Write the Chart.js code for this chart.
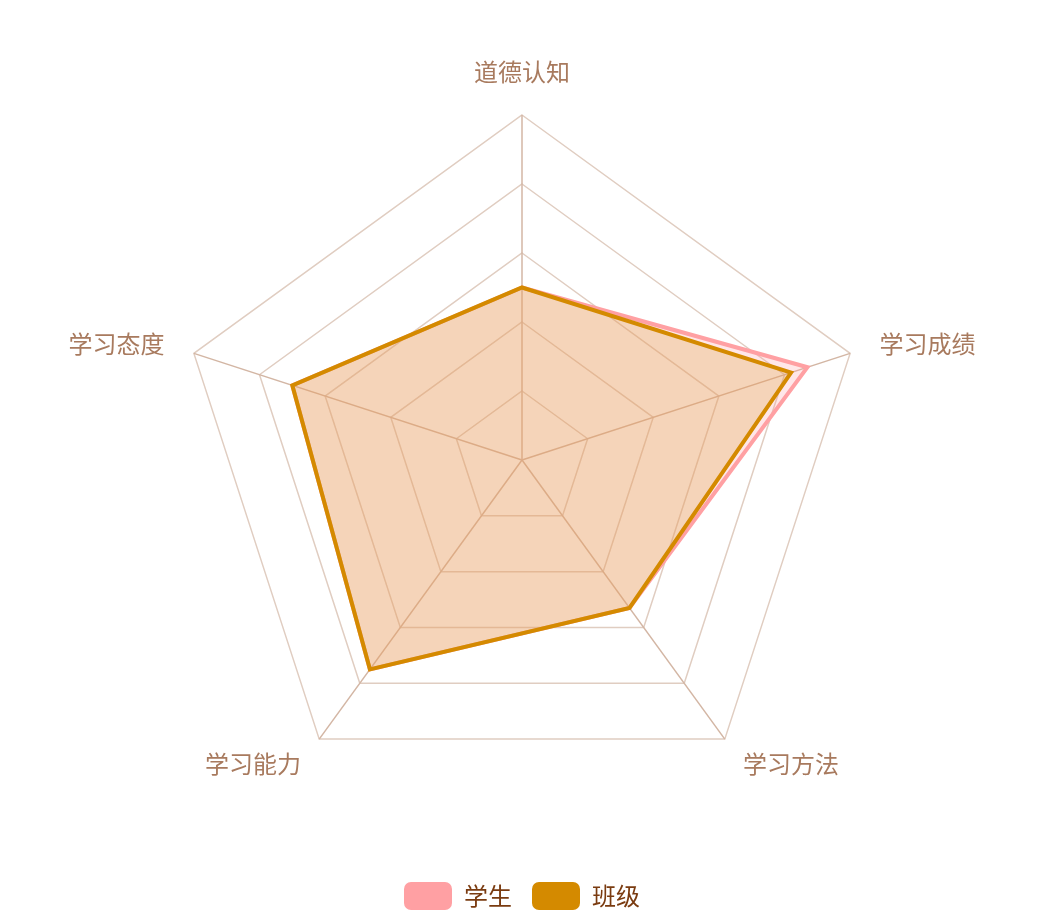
<!DOCTYPE html>
<html><head><meta charset="utf-8">
<script src="https://cdn.jsdelivr.net/npm/chart.js@4.4.1/dist/chart.umd.min.js"></script>
<style>html,body{margin:0;padding:0;background:#fff}#wrap{width:1044px;height:920px}</style>
</head><body><div id="wrap"><canvas id="c" width="1044" height="920"></canvas></div>
<script>
const categories = ['道德认知','学习成绩','学习方法','学习能力','学习态度'];
const studentValues = [50, 87, 53, 75, 70];
const classValues = [50, 82, 53, 75, 70];
const seriesNames = ['学生','班级'];
const tickValues = [0, 20, 40, 60, 80, 100];

const labelColor = '#a87a5e';
const labelFont = '24px "Noto Sans CJK SC"';
const labelGap = 31;

const axisNamePlugin = {
  id: 'axisNames',
  afterDraw(chart){
    const scale = chart.scales.r;
    const ctx = chart.ctx;
    ctx.save();
    ctx.font = labelFont;
    ctx.fillStyle = labelColor;
    chart.data.labels.forEach((lab, i) => {
      const p = scale.getPointPosition(i, scale.drawingArea + labelGap);
      const dx = p.x - scale.xCenter, dy = p.y - scale.yCenter;
      const len = Math.hypot(dx, dy) || 1;
      const c = dx/len, s = dy/len;
      ctx.textAlign = c > 0.3 ? 'left' : (c < -0.3 ? 'right' : 'center');
      ctx.textBaseline = s < -0.3 && Math.abs(c) <= 0.3 ? 'bottom' : (s > 0.3 && Math.abs(c) <= 0.3 ? 'top' : 'middle');
      ctx.fillText(lab, p.x, p.y);
    });
    ctx.restore();
  }
};

new Chart(document.getElementById('c'), {
  type: 'radar',
  data: {
    labels: categories,
    datasets: [
      {label: seriesNames[0], data: studentValues, order: 2, borderColor: '#ffa0a3', backgroundColor: 'rgba(255,158,163,0.25)', borderWidth: 4, pointRadius: 0, fill: true},
      {label: seriesNames[1], data: classValues, order: 1, borderColor: '#d48a00', backgroundColor: 'rgba(215,160,50,0.26)', borderWidth: 4, pointRadius: 0, fill: true}
    ]
  },
  options: {
    responsive: false,
    animation: false,
    layout: {padding: {top: 58, bottom: 0, left: 177, right: 177}},
    elements: {line: {tension: 0, borderJoinStyle: 'miter'}},
    scales: {
      r: {
        min: tickValues[0], max: tickValues[tickValues.length-1],
        ticks: {display: false, stepSize: tickValues[1]-tickValues[0]},
        grid: {color: '#e0cdc1', lineWidth: 1.5},
        angleLines: {color: '#d3b6a4', lineWidth: 1.5},
        pointLabels: {display: false}
      }
    },
    plugins: {
      legend: {
        position: 'bottom',
        labels: {boxWidth: 48, boxHeight: 28, useBorderRadius: true, borderRadius: 7, color: '#7a3b10', font: {size: 24, family: 'Noto Sans CJK SC'}, padding: 20},
      },
      tooltip: {enabled: false}
    }
  },
  plugins: [axisNamePlugin, {
    id: 'legendBoxes',
    beforeInit(chart){
      const orig = chart.options.plugins.legend.labels;
      orig.generateLabels = function(ch){
        return ch.data.datasets.map((d,i)=>({text: d.label, fillStyle: d.borderColor, strokeStyle: d.borderColor, lineWidth: 0, hidden: false, datasetIndex: i, borderRadius: 7, fontColor: '#7a3b10'}));
      };
    }
  }]
});
</script></body></html>
